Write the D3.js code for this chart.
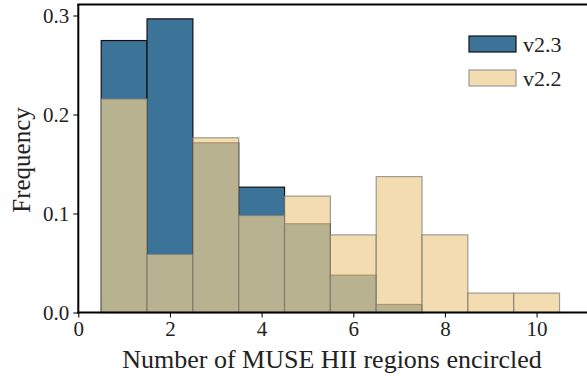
<!DOCTYPE html>
<html>
<head>
<meta charset="utf-8">
<script src="https://cdn.jsdelivr.net/npm/d3@7"></script>
<style>
  html, body { margin: 0; padding: 0; background: #fff; }
</style>
</head>
<body>
<svg id="chart" width="587" height="376" font-family="Liberation Serif, DejaVu Serif, serif"></svg>
<script>
// Histogram bins (unit-wide, centred on integers 1..10)
const binCenters = [1, 2, 3, 4, 5, 6, 7, 8, 9, 10];
// Normalised frequencies per bin
const freqV23 = [0.2747, 0.2966, 0.1714, 0.1266, 0.0896, 0.0377, 0.0081, 0, 0, 0];
const freqV22 = [0.2157, 0.0588, 0.1765, 0.0980, 0.1176, 0.0784, 0.1373, 0.0784, 0.0196, 0.0196];
const seriesNames = ["v2.3", "v2.2"];
const xTicks = [0, 2, 4, 6, 8, 10];
const yTicks = [0.0, 0.1, 0.2, 0.3];
const xLabel = "Number of MUSE HII regions encircled";
const yLabel = "Frequency";

const FONT = "Liberation Serif, DejaVu Serif, serif";
const TEXT = "#222";

const svg = d3.select("#chart");
const x = d3.scaleLinear().domain([0, 10]).range([78.3, 536.6]);
const y = d3.scaleLinear().domain([0, 0.3]).range([312.5, 15.5]);
const yTop = y(0.3111);
const xRight = 600;

const blue = "#3c7399";
const tan = "#eecd8d";

// v2.3 bars (opaque, drawn first)
svg.append("g").selectAll("rect")
  .data(binCenters.map((c, i) => ({ c, v: freqV23[i] })).filter(d => d.v > 0))
  .join("rect")
  .attr("x", d => x(d.c - 0.5))
  .attr("width", d => x(d.c + 0.5) - x(d.c - 0.5))
  .attr("y", d => y(d.v))
  .attr("height", d => y(0) - y(d.v))
  .attr("fill", blue)
  .attr("stroke", "#111")
  .attr("stroke-width", 1.2);

// v2.2 bars (translucent, over v2.3)
svg.append("g").selectAll("rect")
  .data(binCenters.map((c, i) => ({ c, v: freqV22[i] })))
  .join("rect")
  .attr("x", d => x(d.c - 0.5))
  .attr("width", d => x(d.c + 0.5) - x(d.c - 0.5))
  .attr("y", d => y(d.v))
  .attr("height", d => y(0) - y(d.v))
  .attr("fill", tan)
  .attr("fill-opacity", 0.7)
  .attr("stroke", "#777")
  .attr("stroke-opacity", 0.7)
  .attr("stroke-width", 1.2);

// Axes
const xAxis = svg.append("g")
  .attr("transform", `translate(0,${y(0)})`)
  .call(d3.axisBottom(x).tickValues(xTicks).tickFormat(d3.format("d")).tickSize(5).tickPadding(4));
const yAxis = svg.append("g")
  .attr("transform", `translate(${x(0)},0)`)
  .call(d3.axisLeft(y).tickValues(yTicks).tickFormat(d3.format(".1f")).tickSize(5).tickPadding(4));
[xAxis, yAxis].forEach(g => {
  g.attr("font-family", FONT).attr("font-size", 21);
  g.select(".domain").remove();
  g.selectAll(".tick line").attr("stroke", "#111").attr("stroke-width", 1.1);
  g.selectAll(".tick text").attr("fill", TEXT);
});

// Spines
svg.append("line").attr("x1", x(0)).attr("x2", x(0)).attr("y1", yTop).attr("y2", y(0) + 1)
  .attr("stroke", "#000").attr("stroke-width", 2);
svg.append("line").attr("x1", x(0) - 1).attr("x2", xRight).attr("y1", y(0)).attr("y2", y(0))
  .attr("stroke", "#000").attr("stroke-width", 2);
svg.append("line").attr("x1", x(0) - 1).attr("x2", xRight).attr("y1", yTop).attr("y2", yTop)
  .attr("stroke", "#000").attr("stroke-width", 2);

// Axis titles
svg.append("text")
  .attr("x", 332).attr("y", 367.5)
  .attr("text-anchor", "middle").attr("font-size", 26).attr("fill", TEXT)
  .text(xLabel);
svg.append("text")
  .attr("transform", `translate(30,160) rotate(-90)`)
  .attr("text-anchor", "middle").attr("font-size", 25).attr("fill", TEXT)
  .text(yLabel);

// Legend
const legend = svg.append("g");
const legendItems = [
  { name: seriesNames[0], fill: blue, op: 1, stroke: "#111" },
  { name: seriesNames[1], fill: tan, op: 0.7, stroke: "#999" }
];
legendItems.forEach((d, i) => {
  const yy = 36 + i * 34;
  legend.append("rect").attr("x", 469).attr("y", yy).attr("width", 47).attr("height", 16)
    .attr("fill", d.fill).attr("fill-opacity", d.op).attr("stroke", d.stroke).attr("stroke-width", 1.2);
  legend.append("text").attr("x", 523).attr("y", yy + 16).attr("font-size", 22).attr("fill", TEXT).text(d.name);
});
</script>
</body>
</html>
